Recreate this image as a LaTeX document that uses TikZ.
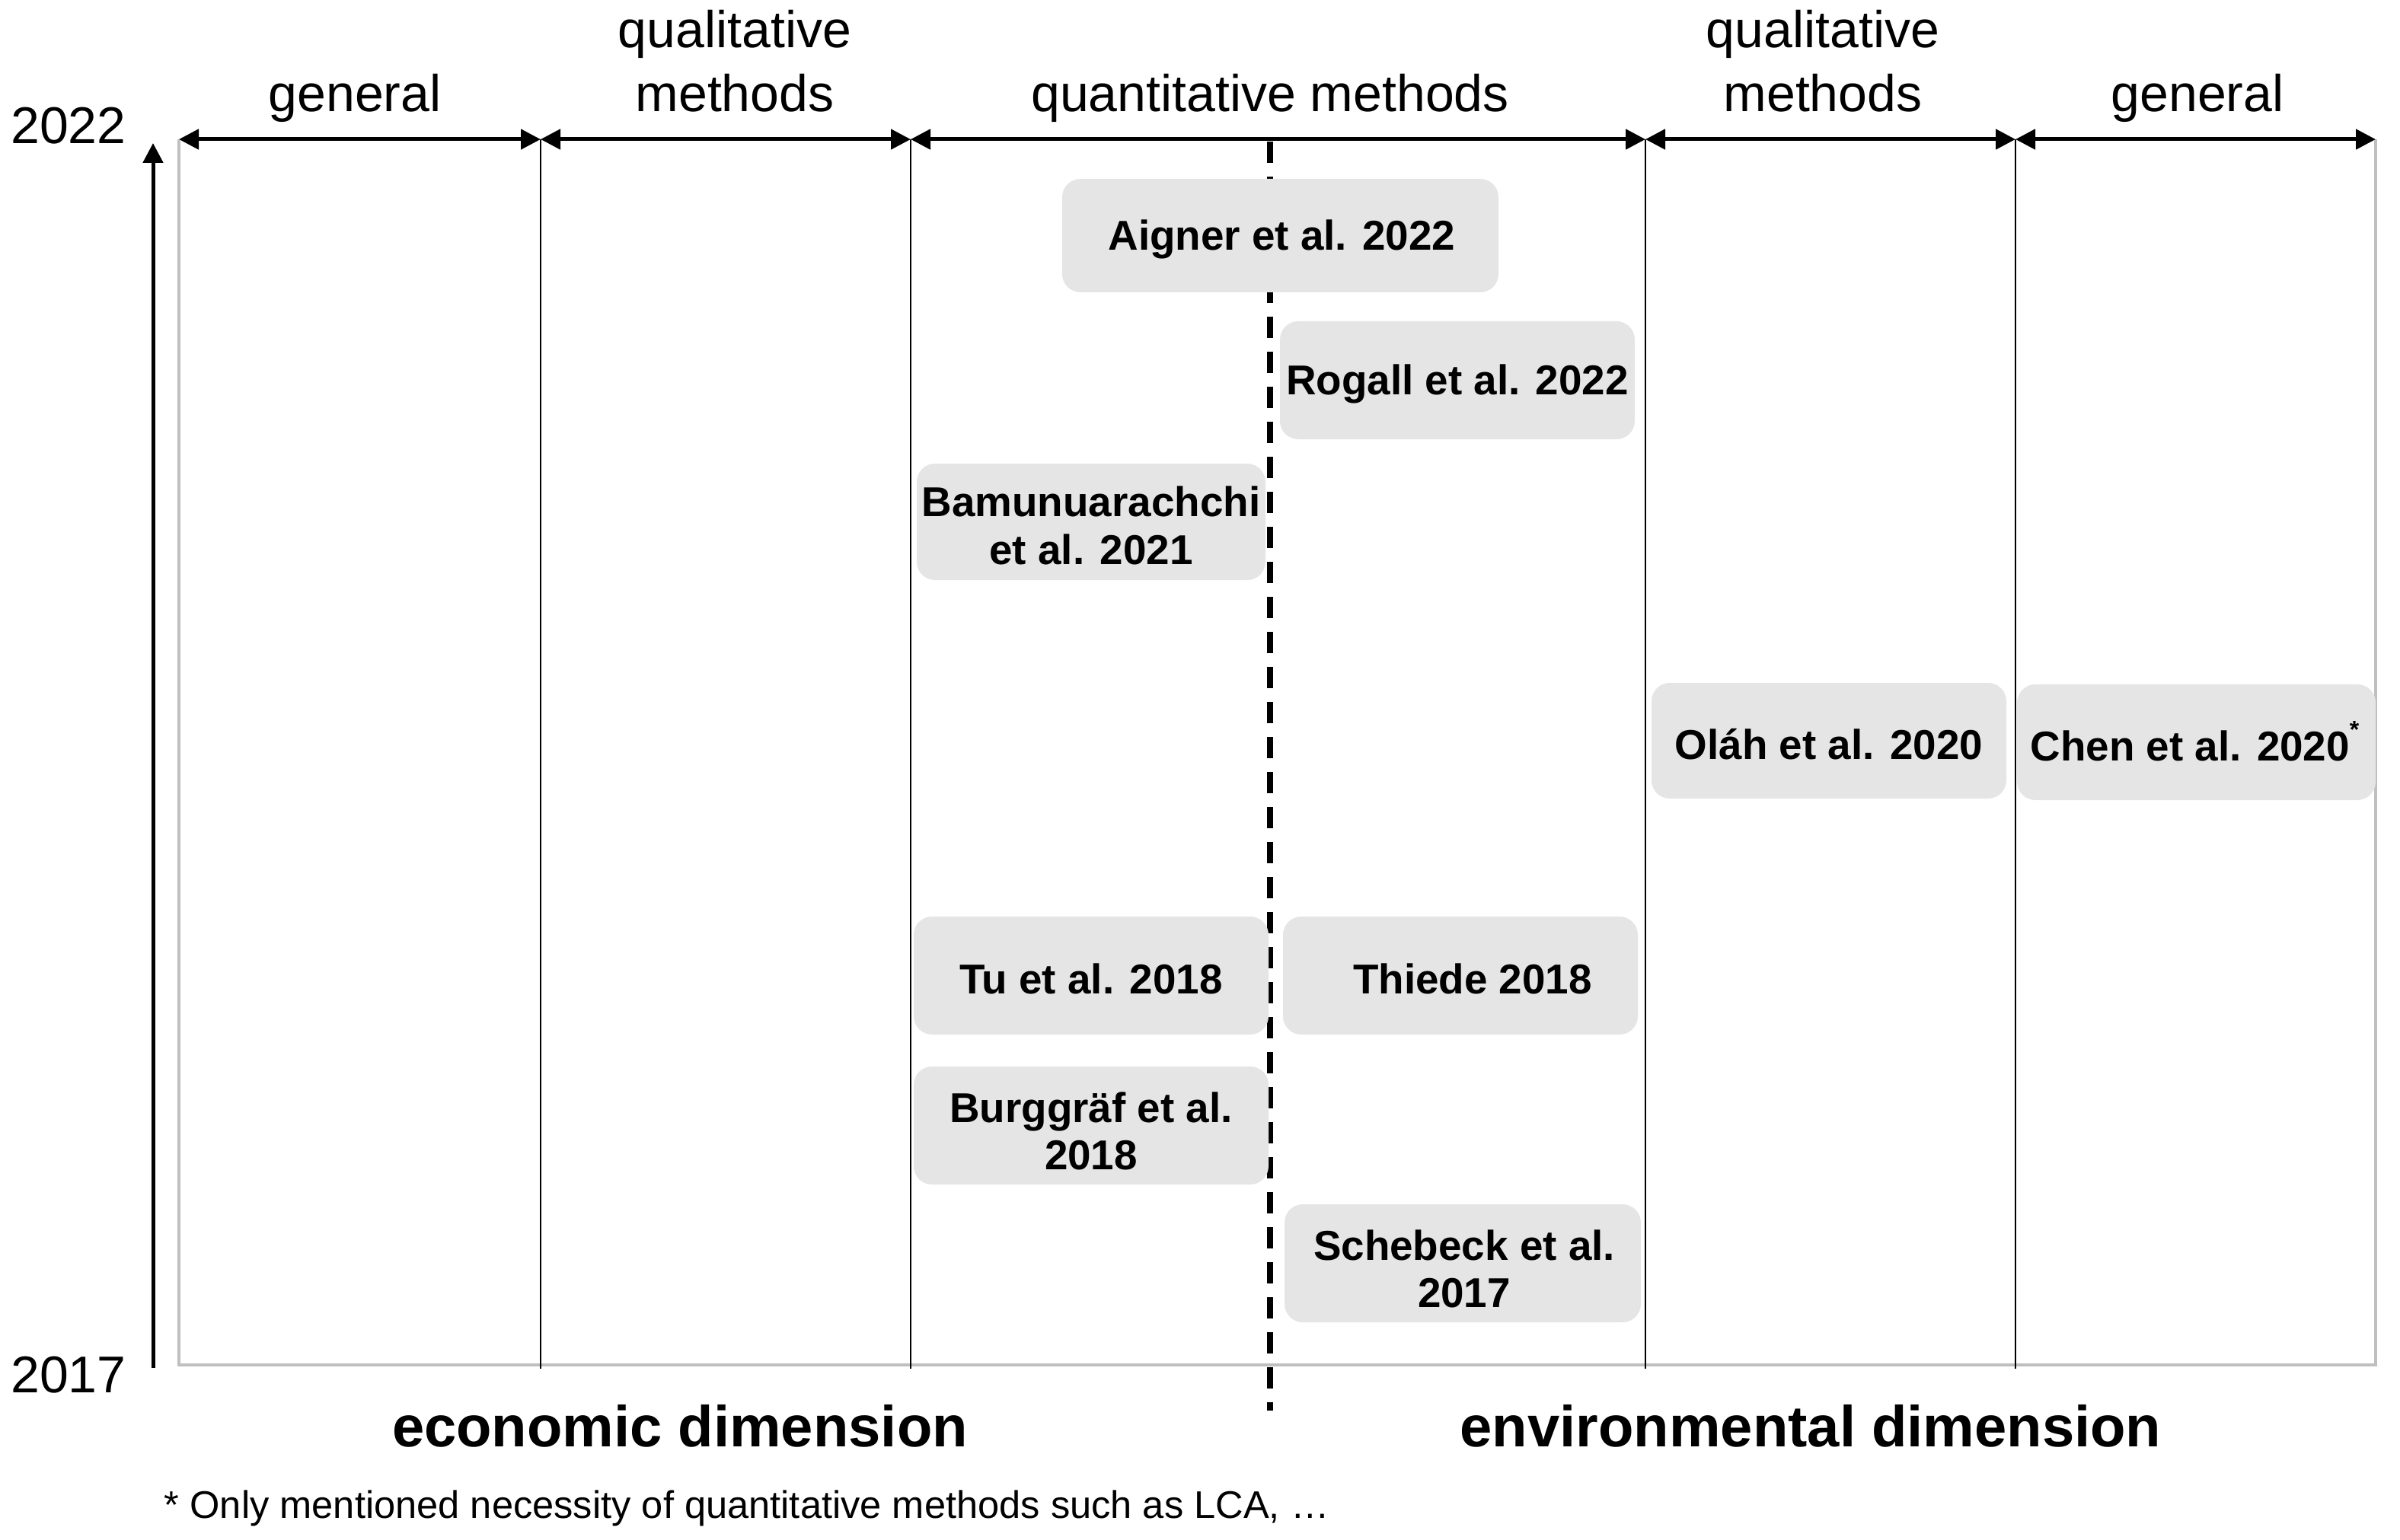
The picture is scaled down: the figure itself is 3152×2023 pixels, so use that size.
\documentclass[tikz,border=0pt]{standalone}
\usepackage{fontspec}
\setmainfont{Liberation Sans}
\usetikzlibrary{arrows.meta}
\definecolor{boxgray}{HTML}{E5E5E5}
\definecolor{framegray}{HTML}{BFBFBF}
\tikzset{
  refbox/.style={fill=boxgray, rounded corners=6pt, inner sep=0pt},
  reftext/.style={inner sep=0pt, align=center, font=\bfseries\fontsize{13.7}{15.6}\selectfont},
  headlabel/.style={anchor=base, align=center, inner sep=0pt, font=\fontsize{17}{21}\selectfont},
  dimlabel/.style={anchor=base, inner sep=0pt, font=\bfseries\fontsize{19}{23}\selectfont},
  yearlabel/.style={anchor=base, inner sep=0pt, font=\fontsize{17}{21}\selectfont},
  dimarrow/.style={line width=1.25pt, {Triangle[length=6.5pt,width=6.5pt]}-{Triangle[length=6.5pt,width=6.5pt]}},
  axisarrow/.style={line width=1.25pt, -{Triangle[length=6.5pt,width=6.5pt]}},
  divider/.style={line width=0.5pt},
  splitline/.style={line width=1.8pt, dash pattern=on 7pt off 4.5pt},
  framestyle/.style={draw=framegray, line width=1pt},
}
\begin{document}
\begin{tikzpicture}[x=0.25pt, y=-0.25pt]
\useasboundingbox (0,0) rectangle (3152,2023);
% frame
\draw[framestyle] (235,183) -- (235,1793) -- (3120,1793) -- (3120,183);
% coordinates
\coordinate (t0) at (235,183);
\coordinate (t1) at (710,183);
\coordinate (t2) at (1196,183);
\coordinate (t3) at (2161,183);
\coordinate (t4) at (2647,183);
\coordinate (t5) at (3120,183);
\coordinate (b1) at (710,1798);
\coordinate (b2) at (1196,1798);
\coordinate (b3) at (2161,1798);
\coordinate (b4) at (2647,1798);
\coordinate (dtop) at (1668,186);
\coordinate (dbot) at (1668,1853);
\coordinate (abot) at (201,1797);
\coordinate (atop) at (201,188);
% dividers
\draw[divider] (t1) -- (b1);
\draw[divider] (t2) -- (b2);
\draw[divider] (t3) -- (b3);
\draw[divider] (t4) -- (b4);
\draw[splitline] (dtop) -- (dbot);
% top arrows
\draw[dimarrow] (t0) -- (t1);
\draw[dimarrow] (t1) -- (t2);
\draw[dimarrow] (t2) -- (t3);
\draw[dimarrow] (t3) -- (t4);
\draw[dimarrow] (t4) -- (t5);
% axis
\draw[axisarrow] (abot) -- (atop);
\node[yearlabel] (y2022) at (90,189) {2022};
\node[yearlabel] (y2017) at (90,1829) {2017};
% headers
\node[headlabel] (h1) at (466,147) {general};
\node[headlabel] (h2) at (965,147) {qualitative\\methods};
\node[headlabel] (h3) at (1668,147) {quantitative methods};
\node[headlabel] (h4) at (2394,147) {qualitative\\methods};
\node[headlabel] (h5) at (2886,147) {general};
% boxes
\node[refbox, minimum width=143.25pt, minimum height=37.25pt] (aigner) at (1681.5,309.5) {};
\node[refbox, minimum width=116.5pt, minimum height=38.75pt] (rogall) at (1914,499.5) {};
\node[refbox, minimum width=114.5pt, minimum height=38.25pt] (bamu) at (1433,685.5) {};
\node[refbox, minimum width=116.5pt, minimum height=38pt] (olah) at (2402,973) {};
\node[refbox, minimum width=117.75pt, minimum height=38pt] (chen) at (2884.5,975) {};
\node[refbox, minimum width=116.5pt, minimum height=38.75pt] (tu) at (1433,1281.5) {};
\node[refbox, minimum width=116.5pt, minimum height=38.75pt] (thiede) at (1918,1281.5) {};
\node[refbox, minimum width=116.5pt, minimum height=38.75pt] (burg) at (1433,1478.5) {};
\node[refbox, minimum width=117pt, minimum height=38.75pt] (scheb) at (1921,1659.5) {};
% box texts
\node[reftext] (aigner-t) at ([xshift=0.5pt,yshift=-1.2pt]aigner.center) {Aigner et al. 2022};
\node[reftext] (rogall-t) at ([yshift=-1.2pt]rogall.center) {Rogall et al. 2022};
\node[reftext] (bamu-t) at ([yshift=-1.2pt]bamu.center) {Bamunuarachchi\\et al. 2021};
\node[reftext] (olah-t) at ([yshift=-1.2pt]olah.center) {Oláh et al. 2020};
\node[reftext] (chen-t) at ([xshift=-0.5pt,yshift=-1.2pt]chen.center) {Chen et al. 2020\smash{\raisebox{0.55em}{\fontsize{8}{8}\selectfont *}}};
\node[reftext] (tu-t) at ([yshift=-1.2pt]tu.center) {Tu et al. 2018};
\node[reftext] (thiede-t) at ([xshift=4pt,yshift=-1.2pt]thiede.center) {Thiede 2018};
\node[reftext] (burg-t) at ([yshift=-1.8pt]burg.center) {Burggräf et al.\\2018};
\node[reftext] (scheb-t) at ([xshift=0.5pt,yshift=-1.8pt]scheb.center) {Schebeck et al.\\2017};
% bottom
\node[dimlabel] (econ) at (893,1900) {economic dimension};
\node[dimlabel] (env) at (2378,1900) {environmental dimension};
\node[anchor=base west, inner sep=0pt, font=\fontsize{12.65}{15}\selectfont] (foot) at (215,1994) {* Only mentioned necessity of quantitative methods such as LCA, …};
\end{tikzpicture}
\end{document}
